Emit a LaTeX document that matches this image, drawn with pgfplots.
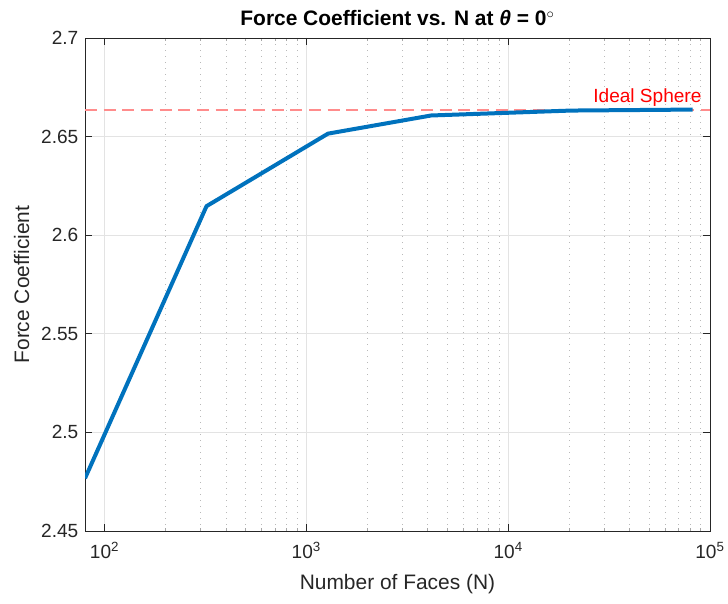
\documentclass[border=0pt]{standalone}
\usepackage{fontspec}
\setmainfont{Liberation Sans}
\usepackage{pgfplots}
\pgfplotsset{compat=1.18}
\definecolor{mblue}{rgb}{0,0.447,0.741}
\definecolor{axgray}{gray}{0.15}
\definecolor{ideal}{rgb}{1,0.55,0.55}
\begin{document}
\begin{tikzpicture}
\begin{axis}[
  scale only axis, width=468.75pt, height=369.75pt,
  xmode=log, xmin=80, xmax=100000, ymin=2.45, ymax=2.7,
  ytick={2.45,2.5,2.55,2.6,2.65,2.7},
  yticklabels={2.45,2.5,2.55,2.6,2.65,2.7},
  xtick={100,1000,10000,100000},
  xticklabels={10\textsuperscript{2},10\textsuperscript{3},10\textsuperscript{4},10\textsuperscript{5}},
  tick align=inside,
  major tick length=5pt, minor tick length=2.5pt,
  xmajorgrids=true, ymajorgrids=true, xminorgrids=true,
  major grid style={gray!22, line width=0.5pt},
  minor grid style={gray!55, dash pattern=on 0.75pt off 3.75pt, line width=0.6pt},
  axis line style={axgray, line width=0.6pt},
  every major tick/.style={axgray, line width=0.6pt},
  every minor tick/.style={gray!70, line width=0.6pt},
  tick label style={font=\fontsize{14.3}{16}\selectfont, text=axgray},
  xticklabel style={yshift=-5pt},
  yticklabel style={xshift=-1.5pt},
  label style={font=\fontsize{15.7}{18}\selectfont, text=axgray},
  xlabel style={at={(axis description cs:0.5,0)}, anchor=base, yshift=-44.25pt},
  ylabel style={at={(axis description cs:0,0.5)}, anchor=center, yshift=47.5pt},
  title style={font=\bfseries\fontsize{15.7}{18}\selectfont},
  title={Force Coefficient vs. N at \textit{θ} = 0\textsuperscript{$\circ$}},
  xlabel={Number of Faces (N)},
  ylabel={Force Coefficient},
  /pgf/number format/assume math mode=true,
]
\addplot[ideal, line width=1.5pt, dash pattern=on 9pt off 5pt] coordinates {(80,2.6637) (100000,2.6637)};
\addplot[mblue, line width=3pt, line join=round] coordinates {
  (80,2.4767) (320,2.6147) (1280,2.6515) (4150,2.6607) (20480,2.6632) (81920,2.6637)
};
\node[anchor=base east, text=red, font=\fontsize{14.3}{16}\selectfont, inner sep=0pt] at (axis cs:91000,2.6672) {Ideal Sphere};
\end{axis}
\pgfresetboundingbox
\path[use as bounding box] ([xshift=-63.75pt,yshift=-54.75pt]current axis.south west) rectangle ([xshift=13.5pt,yshift=28.5pt]current axis.north east);
\end{tikzpicture}
\end{document}
